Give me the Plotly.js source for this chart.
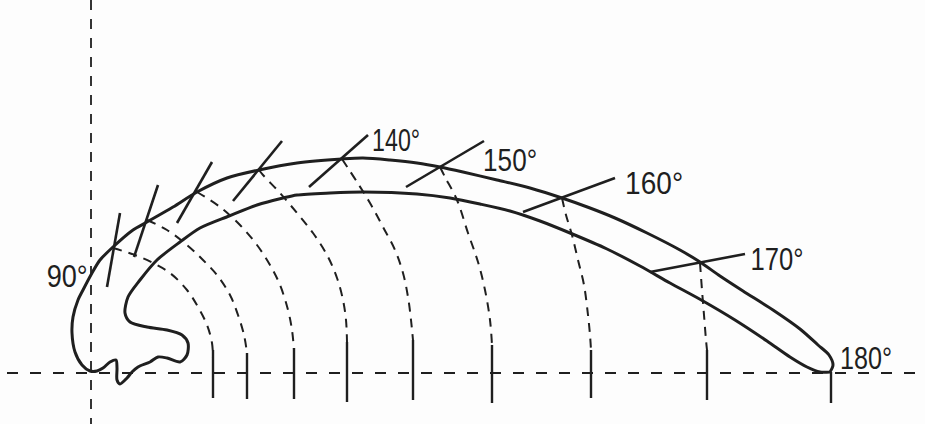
<!DOCTYPE html>
<html>
<head>
<meta charset="utf-8">
<script src="https://cdn.plot.ly/plotly-3.0.1.min.js"></script>
<style>html,body{margin:0;padding:0;background:#fdfdfd;}#chart{width:925px;height:424px;}</style>
</head>
<body>
<div id="chart"></div>
<script>
// Closed outline of the diagram (outer edge from origin to the 180° tip, then inner edge back with the lobe)
const outerX = [90, 82, 75, 72, 73, 78, 83, 92, 100, 113, 133, 147, 173, 197, 227, 259, 297, 342, 363, 390, 417, 440, 463, 497, 530, 562, 590, 615, 647, 680, 700, 720, 743, 773, 800, 818, 829, 833, 830];
const outerY = [371, 365, 352, 333, 317, 300, 290, 273, 260, 247, 230, 222, 207, 192, 178, 170, 163, 159, 158, 160, 163, 167, 172, 180, 188, 198, 208, 218, 233, 250, 262, 276, 291, 310, 329, 345, 355, 365, 372];
const innerX = [830, 820, 807, 790, 767, 735, 703, 670, 640, 607, 570, 540, 510, 480, 450, 417, 363, 330, 297, 283, 257, 229, 200, 180, 157, 140, 128, 125, 130, 147, 167, 182, 188, 187, 180, 167, 158, 150, 138, 132, 127, 120, 117, 117, 116, 110, 103, 97, 90];
const innerY = [372, 372, 367, 357, 341, 320, 301, 283, 266, 249, 233, 221, 211, 204, 198, 194, 192, 193, 195, 198, 205, 216, 228, 242, 260, 280, 297, 313, 322, 327, 330, 335, 343, 355, 362, 358, 357, 362, 367, 372, 378, 384, 380, 368, 360, 362, 368, 371, 371];

// Angle labels (centre positions and drawn widths)
const angleLabels = ["90°", "140°", "150°", "160°", "170°", "180°"];
const labelX = [67, 396, 510, 654, 777, 866];
const labelY = [276, 140, 160, 183, 259, 358];
const labelW = [41, 48, 54, 58, 53, 52];

// Dashed arcs from each angle mark on the outer edge down to the baseline
const arcAngles = [100, 110, 120, 130, 140, 150, 160, 170];
const arcX = [
  [113, 135, 153, 170, 187, 198, 207, 212, 213],
  [147, 167, 187, 203, 217, 230, 238, 244, 247],
  [197, 220, 240, 257, 270, 280, 288, 292, 294],
  [259, 263, 280, 297, 313, 327, 337, 343, 346, 347],
  [342, 357, 370, 383, 395, 403, 408, 411, 413],
  [440, 445, 457, 468, 478, 485, 490, 492],
  [562, 566, 572, 578, 584, 588, 590, 591],
  [700, 702, 704, 706, 707]
];
const arcY = [
  [248, 255, 263, 273, 290, 307, 325, 343, 360],
  [220, 230, 245, 260, 275, 295, 315, 335, 353],
  [192, 207, 225, 245, 265, 285, 310, 330, 350],
  [170, 175, 193, 213, 233, 255, 278, 300, 320, 342],
  [159, 182, 203, 227, 250, 273, 297, 320, 340],
  [167, 177, 200, 233, 262, 290, 320, 345],
  [198, 215, 235, 260, 285, 315, 335, 350],
  [263, 290, 315, 340, 350]
];

// Solid ticks on the baseline where each arc ends
const baseTickX = [213, 247, 294, 347, 413, 492, 591, 707, 831];
const baseTickTop = [350, 353, 348, 342, 340, 345, 350, 350, 372];
const baseTickBottom = [398, 399, 399, 402, 400, 403, 398, 400, 403];

// Solid cross marks through the band (100° ... 170°)
const crossX1 = [120, 158, 212, 282, 368, 484, 615, 745];
const crossY1 = [213, 185, 162, 141, 135, 141, 178, 254];
const crossX2 = [107, 134, 177, 233, 309, 406, 523, 650];
const crossY2 = [287, 257, 223, 201, 187, 187, 212, 272];

// Dashed reference axes
const hAxisX = [7, 925], hAxisY = [373, 373];
const vAxisX = [91, 91], vAxisY = [0, 424];

const ink = '#1f1f1f';
const traces = [];
traces.push({x: hAxisX, y: hAxisY, mode: 'lines', line: {color: ink, width: 1.8, dash: '11px,12px'}, hoverinfo: 'skip'});
traces.push({x: vAxisX, y: vAxisY, mode: 'lines', line: {color: ink, width: 1.8, dash: '10px,9px'}, hoverinfo: 'skip'});
arcAngles.forEach((a, i) => {
  traces.push({x: arcX[i], y: arcY[i], mode: 'lines', line: {color: ink, width: 2, dash: '9px,7px', shape: 'spline'}, hoverinfo: 'skip', name: a + '°'});
});
baseTickX.forEach((x, i) => {
  traces.push({x: [x, x], y: [baseTickTop[i], baseTickBottom[i]], mode: 'lines', line: {color: ink, width: 2.4}, hoverinfo: 'skip'});
});
crossX1.forEach((x, i) => {
  traces.push({x: [x, crossX2[i]], y: [crossY1[i], crossY2[i]], mode: 'lines', line: {color: ink, width: 2.6}, hoverinfo: 'skip'});
});
traces.push({x: outerX.concat(innerX), y: outerY.concat(innerY), mode: 'lines', line: {color: ink, width: 3, shape: 'spline', smoothing: 0.8}, hoverinfo: 'skip'});

const annotations = angleLabels.map((t, i) => ({
  x: labelX[i], y: labelY[i], text: t, showarrow: false, xanchor: 'center', yanchor: 'middle',
  font: {family: 'Liberation Sans, Arial, sans-serif', size: 32, color: ink}
}));

const layout = {
  width: 925, height: 424,
  margin: {l: 0, r: 0, t: 0, b: 0},
  paper_bgcolor: '#fdfdfd', plot_bgcolor: '#fdfdfd',
  showlegend: false,
  xaxis: {range: [0, 925], visible: false, fixedrange: true},
  yaxis: {range: [424, 0], visible: false, fixedrange: true},
  annotations: annotations
};
Plotly.newPlot('chart', traces, layout, {staticPlot: true, displayModeBar: false}).then(gd => {
  // condense the lettering to the narrow stencil style of the original
  gd.querySelectorAll('.annotation-text').forEach((el, i) => {
    const txt = el.textContent;
    const idx = angleLabels.indexOf(txt);
    if (idx >= 0) {
      el.setAttribute('textLength', labelW[idx]);
      el.setAttribute('lengthAdjust', 'spacingAndGlyphs');
    }
  });
});
</script>
</body>
</html>
